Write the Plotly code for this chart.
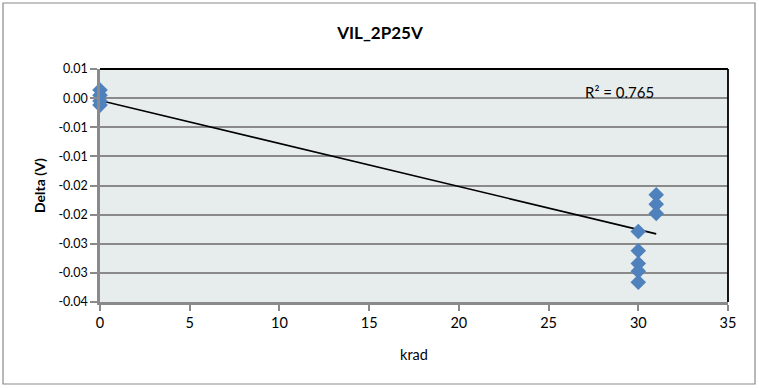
import plotly.graph_objects as go

# Delta measurements per dose (krad)
dose_krad = [0, 0, 0, 0, 30, 30, 30, 30, 30, 31, 31, 31]
delta_v = [0.0014, 0.0005, -0.0005, -0.0012,
           -0.0229, -0.0262, -0.0284, -0.0297, -0.0316,
           -0.0166, -0.0182, -0.0198]

# Linear trendline endpoints
trend_x = [0, 31]
trend_y = [-0.0004, -0.0233]
r_squared = 0.765

# Y ticks (two-decimal labels at 0.005 steps)
y_tickvals = [0.005, 0.0, -0.005, -0.01, -0.015, -0.02, -0.025, -0.03, -0.035]
y_ticktext = ["0.01", "0.00", "-0.01", "-0.01", "-0.02", "-0.02", "-0.03", "-0.03", "-0.04"]
x_tickvals = [0, 5, 10, 15, 20, 25, 30, 35]

FONT = "Lato, Open Sans, sans-serif"
W, H = 759, 388
L, R, T, B = 100, 31, 69, 86
pw, ph = W - L - R, H - T - B

def px_x(p):
    return (p - L) / pw

def px_y(p):
    return (H - B - p) / ph

fig = go.Figure()
fig.add_trace(go.Scatter(
    x=trend_x, y=trend_y, mode="lines",
    line=dict(color="black", width=1.6), hoverinfo="skip", showlegend=False))
fig.add_trace(go.Scatter(
    x=dose_krad, y=delta_v, mode="markers", cliponaxis=False,
    marker=dict(symbol="diamond", size=12, color="#4f81bd",
                line=dict(width=0)),
    showlegend=False))

shapes = [
    # chart frame
    dict(type="rect", xref="paper", yref="paper",
         x0=px_x(3), x1=px_x(755), y0=px_y(384), y1=px_y(3),
         line=dict(color="#8a8a8a", width=1.2), layer="below"),
    # top and right borders of plot area
    dict(type="line", xref="paper", yref="paper", x0=0, x1=1, y0=1, y1=1,
         line=dict(color="black", width=1.8)),
    dict(type="line", xref="paper", yref="paper", x0=1, x1=1, y0=0, y1=1,
         line=dict(color="black", width=1.8)),
]

fig.update_layout(
    width=W, height=H,
    margin=dict(l=L, r=R, t=T, b=B),
    paper_bgcolor="white", plot_bgcolor="#e7ecec",
    font=dict(family=FONT, color="black"),
    title=dict(text="<b>VIL_2P25V</b>", xref="container", x=380 / W,
               xanchor="center", yref="container", y=1 - 33 / H,
               yanchor="middle", font=dict(size=17)),
    shapes=shapes,
    annotations=[dict(text=f"R² = {r_squared}", xref="paper", yref="paper",
                      x=px_x(583), y=px_y(92), xanchor="left", yanchor="middle",
                      showarrow=False, font=dict(size=15, family=FONT))],
    xaxis=dict(range=[0, 35], tickvals=x_tickvals, showgrid=False,
               zeroline=False, showline=True, linecolor="#8a8a8a", linewidth=2.5,
               ticks="outside", ticklen=6, tickcolor="#8a8a8a", tickwidth=1.5,
               tickfont=dict(size=14.5),
               title=dict(text="krad", font=dict(size=14.5), standoff=20)),
    yaxis=dict(range=[-0.035, 0.005], tickvals=y_tickvals, ticktext=y_ticktext,
               showgrid=True, gridcolor="#8a8a8a", gridwidth=1.5,
               zeroline=False, showline=True, linecolor="#8a8a8a", linewidth=2.5,
               ticks="outside", ticklen=7, tickcolor="#8a8a8a", tickwidth=1.5,
               tickfont=dict(size=12.5),
               title=dict(text="<b>Delta (V)</b>", font=dict(size=14), standoff=10)),
)

fig.write_html("out.html")
